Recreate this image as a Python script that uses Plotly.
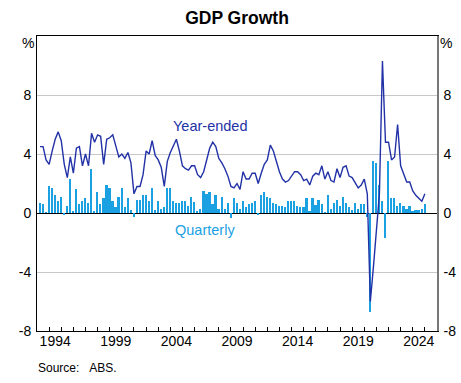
import plotly.graph_objects as go

# Quarterly data: March quarter 1993 to December quarter 2024
start_year = 1993
year_ended = [
    4.5, 4.5, 3.6, 3.3, 4.2, 5.0, 5.5, 4.9, 3.3, 2.4, 3.8, 2.7, 4.4, 4.5, 3.2, 4.0,
    3.2, 5.4, 4.8, 5.3, 5.2, 3.3, 5.0, 5.1, 5.3, 4.6, 3.8, 4.0, 3.7, 4.1, 3.4, 1.3,
    1.8, 1.8, 2.6, 4.2, 4.0, 4.9, 3.9, 3.6, 3.1, 1.8, 3.5, 4.1, 4.6, 5.0, 4.2, 3.2,
    3.0, 2.9, 3.2, 3.2, 2.6, 2.4, 2.8, 3.6, 4.4, 4.8, 4.5, 3.7, 3.4, 3.0, 2.5, 1.8,
    1.7, 2.0, 1.6, 2.8, 2.3, 2.3, 2.7, 2.7, 2.0, 2.7, 3.3, 3.6, 4.6, 4.2, 3.4, 2.8,
    2.3, 2.1, 2.2, 2.5, 2.8, 2.8, 2.6, 2.2, 2.3, 1.9, 2.5, 2.7, 2.6, 3.2, 2.3, 2.8,
    2.2, 2.1, 3.0, 2.4, 3.1, 3.2, 2.5, 2.4, 2.0, 1.7, 1.9, 2.3, 1.3, -6.0, -3.7, -0.9,
    1.3, 10.3, 4.8, 4.8, 3.6, 3.8, 6.0, 3.2, 2.7, 2.1, 2.1, 1.5, 1.2, 1.0, 0.8, 1.3,
]
quarterly = [
    0.7, 0.6, 0.05, 1.8, 1.7, 1.2, 0.8, 1.1, -0.1, 0.5, 2.3, 0.1, 1.6, 0.6, 0.8, 1.0,
    0.7, 3.0, 0.1, 1.4, 0.6, 1.0, 1.9, 1.7, 0.8, 0.4, 1.1, 1.7, 0.4, 1.0, 0.2, -0.3,
    0.9, 0.9, 1.2, 1.2, 0.8, 1.7, 0.2, 0.8, 0.3, 0.4, 1.7, 1.7, 0.8, 0.7, 0.7, 0.8,
    0.8, 0.5, 1.1, 0.75, 0.1, 0.3, 1.5, 1.3, 1.4, 0.6, 1.2, 0.3, 1.1, 0.25, 0.7, -0.35,
    1.0, 0.7, 0.3, 0.8, 0.4, 0.6, 0.7, 0.8, -0.15, 1.2, 1.4, 1.1, 1.0, 0.65, 0.6, 0.45,
    0.5, 0.4, 0.8, 0.8, 0.8, 0.5, 0.4, 0.4, 1.0, 0.1, 1.0, 0.55, 0.85, 0.6, 0.05, 1.2,
    0.3, 0.7, 0.9, 0.5, 1.1, 0.7, 0.4, 0.2, 0.7, 0.3, 0.6, 0.6, -0.3, -6.7, 3.5, 3.4,
    1.9, 0.8, -1.7, 3.5, 1.0, 1.0, 0.5, 0.7, 0.5, 0.3, 0.5, 0.15, 0.2, 0.2, 0.3, 0.6,
]
# time positions (end of each quarter, in years)
dates = [start_year + (i + 1) / 4 for i in range(len(year_ended))]

year_ticks = list(range(1994, 2026))
label_years = [1994, 1999, 2004, 2009, 2014, 2019, 2024]
label_pos = [y + 0.5 for y in label_years]
label_text = [str(y) for y in label_years]
y_ticks = [-8, -4, 0, 4, 8]
y_tick_text = ["-8", "-4", "0", "4", "8"]

LINE = "#2232a6"
BAR = "#1ba1e2"
FONT = "Liberation Sans, Arial, sans-serif"
x_range = [1993, 2026]
y_range = [-8, 12]

fig = go.Figure()
fig.add_trace(go.Bar(x=dates, y=quarterly, marker=dict(color=BAR, line=dict(width=0)),
                     width=0.14, xaxis="x", yaxis="y", showlegend=False))
fig.add_trace(go.Scatter(x=dates, y=year_ended, mode="lines",
                         line=dict(color=LINE, width=1.4),
                         xaxis="x2", yaxis="y2", showlegend=False))

fig.update_layout(
    width=461, height=383,
    margin=dict(l=37, r=24, t=36, b=52, autoexpand=False),
    paper_bgcolor="white", plot_bgcolor="white",
    font=dict(family=FONT, size=14, color="black"),
    title=dict(text="<b>GDP Growth</b>", x=0.5, xref="paper", xanchor="center",
               y=1 - 18 / 383, yanchor="middle", font=dict(size=17.5, family=FONT)),
    bargap=0,
    xaxis=dict(range=x_range, tickmode="array", tickvals=year_ticks, ticks="inside",
               ticklen=4, tickcolor="black", tickwidth=1, showticklabels=False,
               showgrid=False, zeroline=False, showline=True, linecolor="black",
               linewidth=1, mirror=True, automargin=False),
    xaxis2=dict(range=x_range, overlaying="x", anchor="y", side="bottom",
                tickmode="array", tickvals=label_pos, ticktext=label_text,
                ticks="", showgrid=False, zeroline=False, showline=False,
                tickfont=dict(size=14), automargin=False),
    yaxis=dict(range=y_range, tickmode="array", tickvals=y_ticks, ticktext=y_tick_text,
               ticks="", showgrid=True, gridcolor="#c8c8c8", gridwidth=1,
               zeroline=True, zerolinecolor="black", zerolinewidth=1,
               showline=True, linecolor="black", linewidth=1,
               tickfont=dict(size=14), ticklabelstandoff=2, automargin=False),
    yaxis2=dict(range=y_range, overlaying="y", anchor="x", side="right",
                tickmode="array", tickvals=y_ticks, ticktext=y_tick_text, ticks="",
                showgrid=False, zeroline=False, showline=True,
                linecolor="#777777", linewidth=1.5,
                tickfont=dict(size=14), ticklabelstandoff=2, automargin=False),
    annotations=[
        dict(text="Year-ended", x=2004.05, y=5.9, xref="x", yref="y",
             xanchor="left", yanchor="middle", showarrow=False,
             font=dict(color=LINE, size=14.5)),
        dict(text="Quarterly", x=2004.2, y=-1.15, xref="x", yref="y",
             xanchor="left", yanchor="middle", showarrow=False,
             font=dict(color=BAR, size=14.5)),
        dict(text="%", x=0, y=11.5, xref="paper", yref="y", xanchor="right",
             xshift=-1, yanchor="middle", showarrow=False, font=dict(size=14)),
        dict(text="%", x=1, y=11.5, xref="paper", yref="y", xanchor="left",
             xshift=1, yanchor="middle", showarrow=False, font=dict(size=14)),
        dict(text="Source:\u00a0\u00a0\u00a0ABS.", x=-0.003, y=-0.125, xref="paper",
             yref="paper", xanchor="left", yanchor="middle", showarrow=False,
             font=dict(size=12)),
    ],
)

fig.write_html("out.html", config={"displayModeBar": False},
               post_script="document.body.style.margin='0px';document.body.style.padding='0px';")
